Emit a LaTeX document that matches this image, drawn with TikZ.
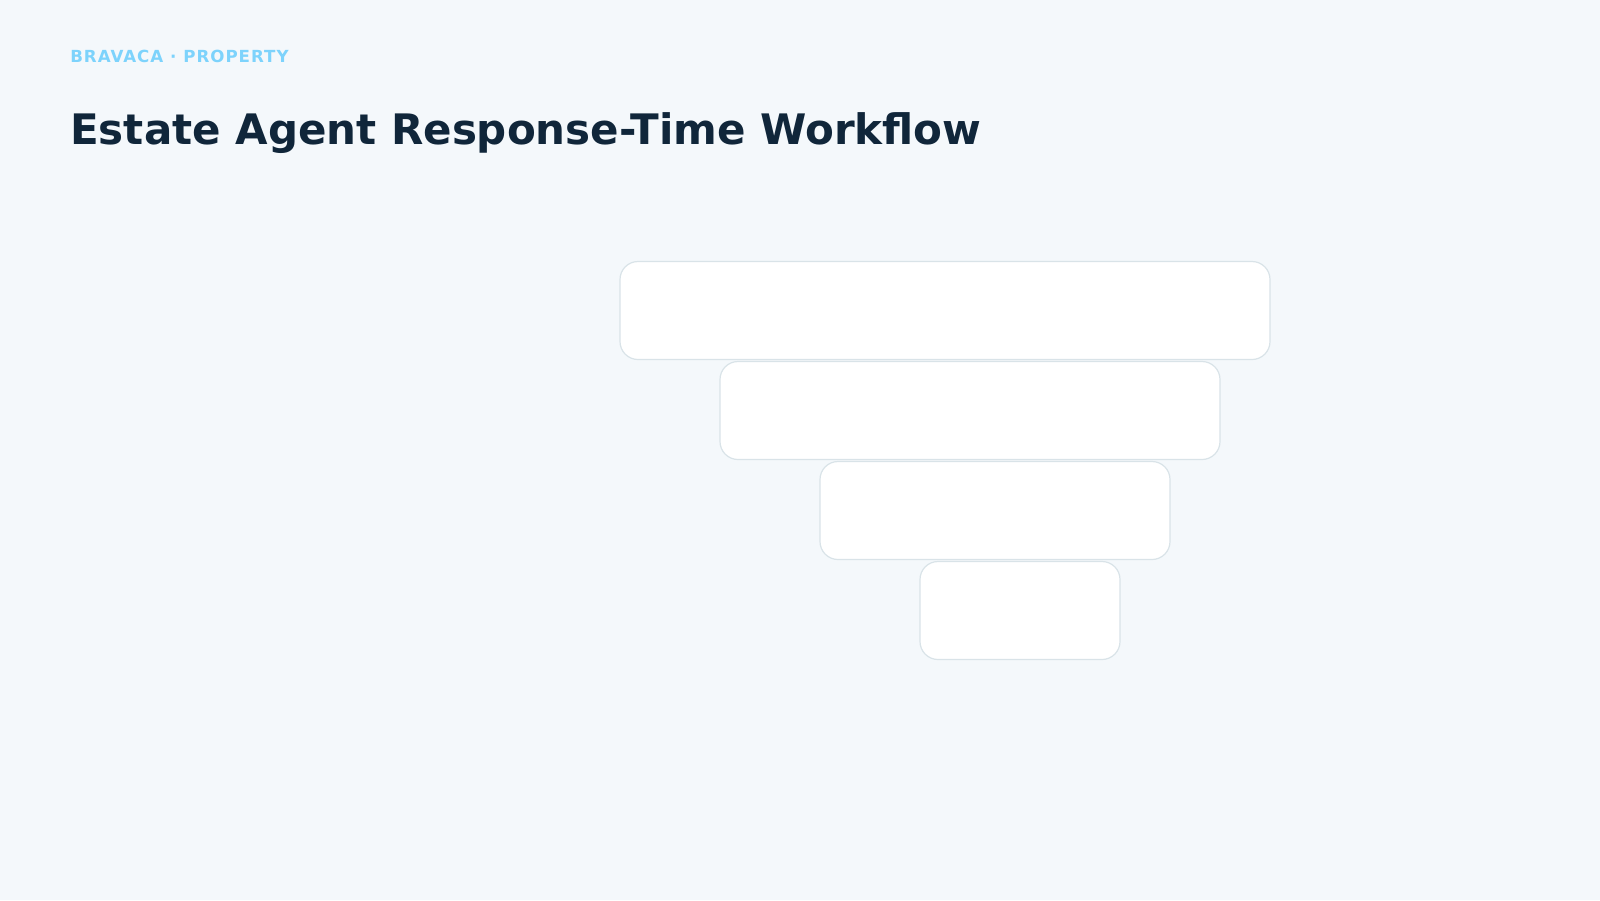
\documentclass[tikz,border=0pt]{standalone}
\usepackage{fontspec}
\setmainfont{DejaVu Sans}
\newfontfamily\brandfont[LetterSpace=6]{DejaVu Sans}
\usepackage{tikz}
\usetikzlibrary{positioning}
\definecolor{pagebg}{HTML}{F4F8FB}
\definecolor{boxline}{HTML}{D9E3E8}
\definecolor{brandblue}{HTML}{7DD3FC}
\definecolor{titleink}{HTML}{10263A}
\tikzset{%
  stagebox/.style={rectangle, draw=boxline, fill=white, rounded corners=13.5pt, line width=0.9pt, minimum height=73.5pt, inner sep=0pt},
  brand/.style={anchor=base west, inner sep=0pt, text=brandblue, font=\brandfont\fontsize{12.5}{15}\selectfont\bfseries},
  heading/.style={anchor=base west, inner sep=0pt, text=titleink, font=\fontsize{31.5}{38}\selectfont\bfseries}}

\begin{document}
\begin{tikzpicture}[x=0.75pt, y=-0.75pt]
    \fill[pagebg] (0,0) rectangle (1600,900);
    \node [brand] (brand) at (70,62) {BRAVACA · PROPERTY};
    \node [heading] (title) at (70,144.5) {Estate Agent Response-Time Workflow};
    % funnel: each stage narrower by 150px, shifted right by 25px
    \foreach \i in {1, 2, 3, 4} {
      \pgfmathsetmacro{\w}{0.75*(650-150*(\i-1))}
      \node [stagebox, minimum width=\w pt] (stage\i) at ({945+25*(\i-1)}, {310.5+100*(\i-1)}) {};
    }
  \end{tikzpicture}
\end{document}
